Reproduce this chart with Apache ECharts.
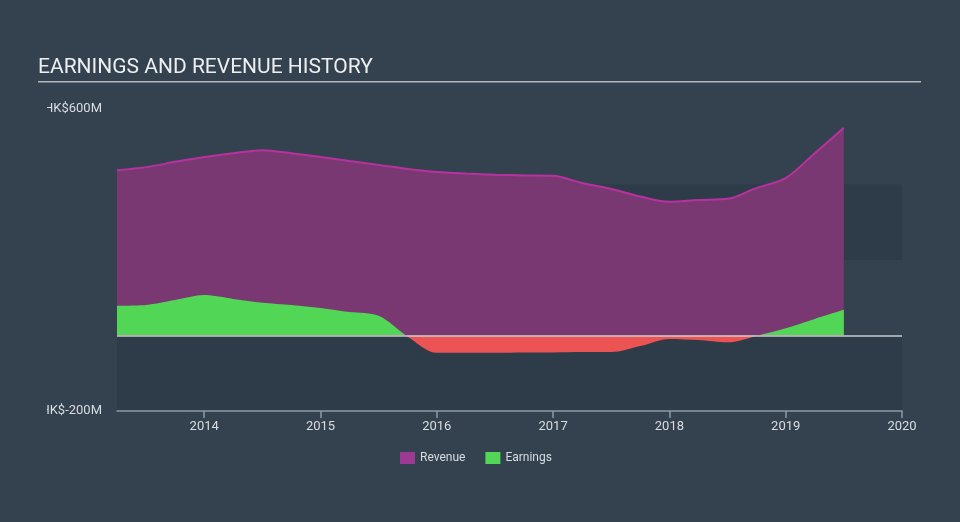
<!DOCTYPE html>
<html>
<head>
<meta charset="utf-8">
<script src="https://cdn.jsdelivr.net/npm/echarts@6/dist/echarts.min.js"></script>
<style>
  html, body { margin: 0; padding: 0; width: 960px; height: 522px; background: #34414f; overflow: hidden; }
  #chart { width: 960px; height: 522px; }
</style>
</head>
<body>
<div id="chart"></div>
<script>
// Quarterly time points (trailing twelve months)
const periods = [2013.25, 2013.5, 2013.75, 2014.0, 2014.25, 2014.5, 2014.75, 2015.0, 2015.25, 2015.5,
  2015.75, 2016.0, 2016.25, 2016.5, 2016.75, 2017.0, 2017.25, 2017.5, 2017.75, 2018.0,
  2018.25, 2018.5, 2018.75, 2019.0, 2019.25, 2019.5];
// HK$ millions
const revenue = [438, 446, 460, 473, 483, 491, 483, 473, 462, 452,
  441, 433, 429, 426, 424, 423, 404, 388, 368, 354,
  359, 362, 391, 417, 483, 550];
const earnings = [79, 81, 94, 107, 97, 87, 81, 73, 62, 52,
  -3, -46, -46, -46, -45, -45, -44, -44, -28, -9,
  -12, -18, -1, 19, 44, 68];
const xTicks = [2014, 2015, 2016, 2017, 2018, 2019, 2020];
const yTicks = [-200, 600];

const chart = echarts.init(document.getElementById('chart'));
const labelColor = '#d9dde2';
chart.setOption({
  backgroundColor: 'transparent',
  animation: false,
  title: {
    text: 'EARNINGS AND REVENUE HISTORY',
    left: 38, top: 57, padding: 0,
    textStyle: { color: '#eceef0', fontFamily: 'Roboto', fontSize: 21, fontWeight: 'normal' }
  },
  graphic: [
    { type: 'rect', z: 100, shape: { x: 38, y: 81, width: 883, height: 1.5 }, style: { fill: '#b4b9c0' } },
    { type: 'rect', z: 100, zlevel: 1, shape: { x: 0, y: 95, width: 47, height: 330 }, style: { fill: '#34414f' } }
  ],
  legend: {
    data: ['Revenue', 'Earnings'],
    left: 400, top: 452, padding: 0,
    icon: 'rect', itemWidth: 15, itemHeight: 12, itemGap: 20,
    textStyle: { color: labelColor, fontFamily: 'Roboto', fontSize: 12 }
  },
  grid: { left: 117, right: 58, top: 109, bottom: 111 },
  xAxis: {
    type: 'value', min: 2013.25, max: 2020,
    axisLine: { onZero: false, lineStyle: { color: '#8e99a6', width: 1.5 } },
    axisTick: { show: true, customValues: xTicks, length: 7, lineStyle: { color: '#8e99a6', width: 1.5 } },
    axisLabel: { customValues: xTicks, formatter: v => String(v), color: labelColor, fontFamily: 'Roboto', fontSize: 13, margin: 9 },
    splitLine: { show: false }
  },
  yAxis: {
    type: 'value', min: -200, max: 600, interval: 200,
    axisLine: { show: false }, axisTick: { show: false },
    axisLabel: {
      customValues: yTicks,
      formatter: v => 'HK$' + v + 'M',
      color: labelColor, fontFamily: 'Roboto', fontSize: 13, margin: 15
    },
    splitLine: { show: false },
    splitArea: { show: true, areaStyle: { color: ['rgba(10,20,30,0.12)', 'rgba(0,0,0,0)'] } }
  },
  visualMap: {
    show: false, seriesIndex: 1, dimension: 1,
    pieces: [{ gte: -1000, lt: 0, color: '#ec5353' }, { gte: 0, lte: 1000, color: '#52d655' }]
  },
  series: [
    {
      name: 'Revenue', type: 'line', smooth: 0.3, symbol: 'none',
      data: periods.map((p, i) => [p, revenue[i]]),
      itemStyle: { color: '#9c3a91' },
      lineStyle: { color: '#b8329f', width: 2 },
      areaStyle: { color: '#7a3873', opacity: 1 },
      z: 2
    },
    {
      name: 'Earnings', type: 'line', smooth: 0.3, symbol: 'none',
      data: periods.map((p, i) => [p, earnings[i]]),
      itemStyle: { color: '#52d655' },
      lineStyle: { width: 0 },
      areaStyle: { opacity: 1 },
      z: 3,
      markLine: {
        silent: true, symbol: 'none', label: { show: false },
        lineStyle: { color: '#c9cdd2', width: 1.5, type: 'solid' },
        data: [{ yAxis: 0 }]
      }
    }
  ]
});
</script>
</body>
</html>
